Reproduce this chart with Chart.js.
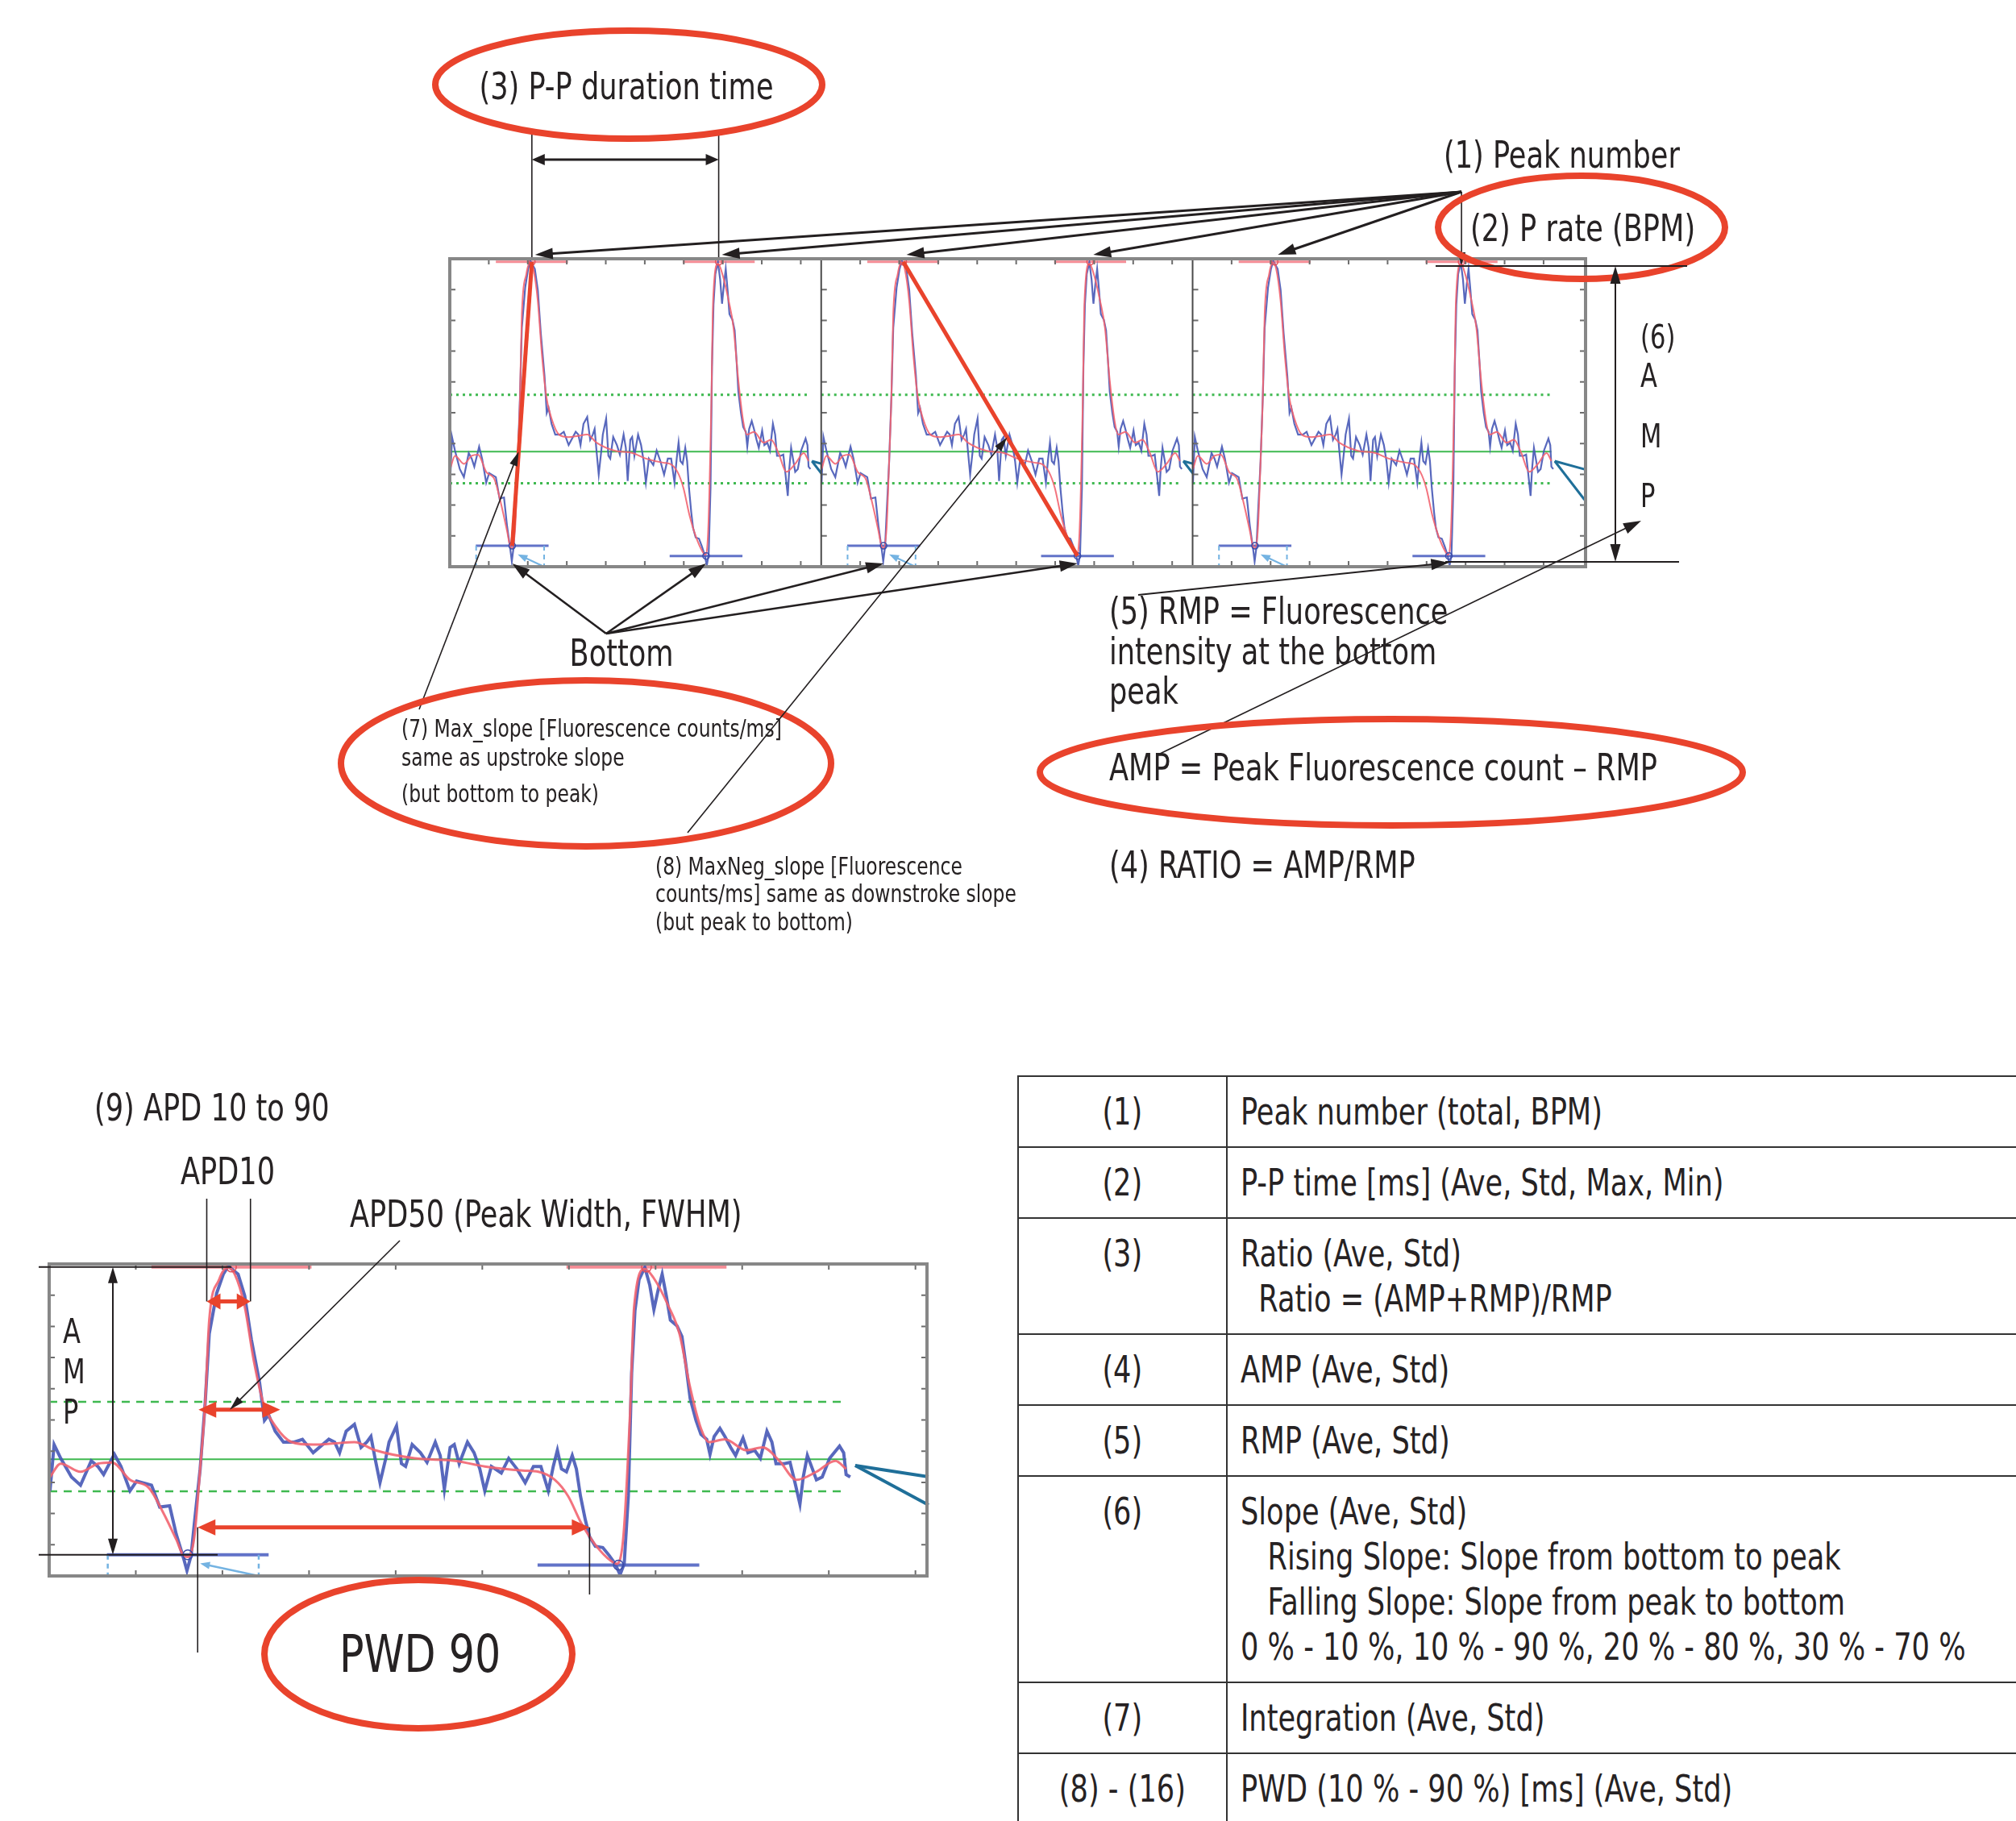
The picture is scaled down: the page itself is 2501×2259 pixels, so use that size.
<!DOCTYPE html>
<html>
<head>
<meta charset="utf-8">
<title>Peak analysis parameters</title>
<script src="https://cdn.jsdelivr.net/npm/chart.js@4.4.1/dist/chart.umd.min.js"></script>
<style>
  html, body { margin: 0; padding: 0; background: #fff; }
  body {
    width: 2501px; height: 2259px; position: relative; overflow: hidden;
    font-family: "Liberation Sans Narrow", "DejaVu Sans Condensed", "Arial Narrow", sans-serif;
    color: #262223;
  }
  canvas { position: absolute; }
  #top { left: 0; top: 0; }
  #bottom { left: 0; top: 1200px; }
  .lbl {
    position: absolute; white-space: pre; line-height: 1; font-size: 46px;
    transform: translateY(-50%) scaleX(0.85); transform-origin: left center;
  }
  .mid { transform: translate(-50%, -50%) scaleX(0.85); transform-origin: center center; }
  .sm { font-size: 31px; transform: translateY(-50%) scaleX(0.84); }
  .big { font-size: 64px; transform: translate(-50%, -50%) scaleX(0.88); transform-origin: center center; }
  #spec { position: absolute; left: 1262px; top: 1334px; width: 1400px; border-collapse: collapse; font-size: 46px; }
  #spec td { border: 2px solid #333; vertical-align: top; padding: 15px 0; line-height: 56px; white-space: pre; }
  #spec td.id { width: 257px; text-align: center; }
  #spec td.txt { padding-left: 16px; }
  #spec span { display: inline-block; transform: scaleX(0.85); transform-origin: left top; }
  #spec td.id span { transform-origin: center top; }
</style>
</head>
<body>
<canvas id="top" width="2501" height="1200"></canvas>
<canvas id="bottom" width="1250" height="1059"></canvas>

<div class="lbl mid" style="left:777px;top:107px">(3) P-P duration time</div>
<div class="lbl" style="left:1791px;top:192px">(1) Peak number</div>
<div class="lbl" style="left:1824px;top:283px">(2) P rate (BPM)</div>
<div class="lbl" style="left:2035px;top:418px;font-size:40px">(6)</div>
<div class="lbl" style="left:2035px;top:466px;font-size:40px">A</div>
<div class="lbl" style="left:2035px;top:541px;font-size:40px">M</div>
<div class="lbl" style="left:2035px;top:615px;font-size:40px">P</div>
<div class="lbl mid" style="left:771px;top:810px">Bottom</div>
<div class="lbl" style="left:1376px;top:758px">(5) RMP = Fluorescence</div>
<div class="lbl" style="left:1376px;top:808px">intensity at the bottom</div>
<div class="lbl" style="left:1376px;top:857px">peak</div>
<div class="lbl" style="left:1376px;top:952px">AMP = Peak Fluorescence count – RMP</div>
<div class="lbl" style="left:1376px;top:1073px">(4) RATIO = AMP/RMP</div>
<div class="lbl sm" style="left:498px;top:903px">(7) Max_slope [Fluorescence counts/ms]</div>
<div class="lbl sm" style="left:498px;top:939px">same as upstroke slope</div>
<div class="lbl sm" style="left:498px;top:984px">(but bottom to peak)</div>
<div class="lbl sm" style="left:813px;top:1074px">(8) MaxNeg_slope [Fluorescence</div>
<div class="lbl sm" style="left:813px;top:1108px">counts/ms] same as downstroke slope</div>
<div class="lbl sm" style="left:813px;top:1143px">(but peak to bottom)</div>
<div class="lbl" style="left:117px;top:1374px">(9) APD 10 to 90</div>
<div class="lbl" style="left:224px;top:1453px">APD10</div>
<div class="lbl" style="left:434px;top:1506px">APD50 (Peak Width, FWHM)</div>
<div class="lbl" style="left:78px;top:1652px;font-size:42px">A</div>
<div class="lbl" style="left:78px;top:1702px;font-size:42px">M</div>
<div class="lbl" style="left:78px;top:1752px;font-size:42px">P</div>
<div class="lbl big" style="left:521px;top:2052px">PWD 90</div>
<table id="spec"></table>

<script>
// one recording window (x: samples, y: % of the plot height)
// shown three times in the overview and once enlarged below
const traceX = [1, 6, 14, 27, 38, 51, 59, 66, 79, 87,
  98, 106, 124, 134, 146, 154, 163, 167, 172, 176,
  183, 189, 194, 203, 211, 217, 229, 237, 245, 255,
  261, 266, 274, 284, 297, 307, 320, 339, 346, 352,
  360, 370, 378, 385, 390, 395, 401, 408, 412, 421,
  427, 432, 440, 450, 458, 468, 474, 479, 486, 491,
  497, 507, 515, 522, 528, 536, 548, 557, 567, 577,
  587, 596, 605, 611, 616, 621, 627, 634, 639, 644,
  650, 655, 662, 671, 679, 686, 692, 697, 702, 706,
  710, 715, 722, 728, 733, 738, 743, 748, 753, 761,
  767, 772, 777, 784, 790, 797, 801, 806, 813, 819,
  826, 832, 841, 847, 855, 862, 870, 876, 881, 891,
  898, 904, 910, 914, 919, 924, 930, 937, 946, 958,
  963, 966, 971];
const traceRaw = [27.3, 42.1, 37.7, 31.7, 29.1, 36.9, 35.1, 32.5, 39.0, 35.1,
  27.3, 30.4, 29.1, 22.1, 22.5, 13.4, 5.6, 1.7, 6.5, 16.9,
  34.3, 55.1, 77.6, 90.6, 96.7, 99.3, 96.7, 89.8, 75.9, 62.0,
  49.9, 51.6, 46.4, 42.9, 42.9, 43.8, 39.5, 43.8, 42.9, 39.5,
  46.4, 48.6, 41.2, 42.9, 44.7, 37.7, 29.9, 37.7, 42.9, 48.1,
  36.0, 35.1, 42.1, 39.5, 36.4, 42.9, 38.6, 27.8, 41.2, 42.1,
  36.0, 42.9, 39.5, 34.3, 27.3, 35.1, 33.0, 37.7, 34.3, 29.9,
  35.1, 35.1, 27.3, 35.1, 40.3, 34.3, 33.4, 38.6, 34.3, 25.6,
  17.8, 12.6, 9.5, 9.1, 6.5, 3.9, 0.4, 3.9, 25.6, 65.0,
  85.0, 95.0, 98.9, 93.2, 85.4, 91.5, 96.7, 89.8, 82.0, 80.2,
  76.7, 67.2, 56.8, 49.9, 45.4, 43.8, 39.0, 44.7, 47.3, 44.7,
  41.2, 38.6, 44.2, 39.5, 40.3, 37.7, 46.4, 42.9, 36.0, 36.0,
  36.4, 29.9, 23.0, 31.7, 38.6, 35.1, 30.8, 31.7, 37.7, 41.6,
  39.5, 32.5, 31.7];

// fitted (smoothed) curve
const smoothX = [1, 14, 38, 59, 76, 98, 121, 138, 154, 163,
  168, 176, 183, 189, 194, 206, 216, 225, 237, 248,
  260, 274, 294, 320, 346, 370, 395, 443, 492, 528,
  574, 593, 613, 629, 645, 662, 681, 688, 696, 704,
  709, 722, 732, 751, 764, 777, 790, 800, 819, 845,
  865, 885, 906, 930, 953, 966];
const smoothY = [31.7, 36.0, 33.4, 36.0, 36.4, 30.8, 28.2, 20.4, 11.7, 6.5,
  6.1, 12.6, 34.3, 55.1, 82.0, 95.0, 98.9, 96.7, 86.3, 69.0,
  55.1, 48.1, 42.9, 42.1, 42.5, 42.9, 40.3, 37.7, 36.9, 35.1,
  33.8, 33.4, 30.8, 25.6, 16.9, 10.0, 4.8, 3.9, 12.6, 51.6,
  86.3, 98.4, 95.8, 86.3, 77.6, 60.3, 47.3, 42.9, 43.8, 40.3,
  41.2, 36.9, 30.8, 33.4, 36.9, 34.3];

// threshold levels: upper dotted, baseline, lower dotted
const levelValues = [55.8, 37.4, 27.1];
const levelEnd = 966;

// detected peaks and bottoms in the window
const peakX = [221, 724];
const peakY = [99, 99];
const bottomX = [168, 690];
const bottomY = [6.8, 3.5];

// overview panels
const panelStart = [0, 1000, 2000];
const panelEnd = [1000, 2000, 3058];

const xTickValues = [105, 210, 315, 420, 525, 630, 735, 840, 945, 1050];
const yTickValues = [10, 20, 30, 40, 50, 60, 70, 80, 90];

// APD10 / APD50 / PWD90 widths on the enlarged trace
const apdLevel = [88, 53.3, 15.6];
const apdFrom = [191, 181, 180];
const apdTo = [244, 280, 655];

// parameter table
const rowIds = ['(1)', '(2)', '(3)', '(4)', '(5)', '(6)', '(7)', '(8) - (16)'];
const rowItems = [
  ['Peak number (total, BPM)'],
  ['P-P time [ms] (Ave, Std, Max, Min)'],
  ['Ratio (Ave, Std)', '  Ratio = (AMP+RMP)/RMP'],
  ['AMP (Ave, Std)'],
  ['RMP (Ave, Std)'],
  ['Slope (Ave, Std)', '   Rising Slope: Slope from bottom to peak', '   Falling Slope: Slope from peak to bottom',
   '0 % - 10 %, 10 % - 90 %, 20 % - 80 %, 30 % - 70 %'],
  ['Integration (Ave, Std)'],
  ['PWD (10 % - 90 %) [ms] (Ave, Std)']
];

const ink = '#231f20';
const red = '#e9432c';
const teal = '#1f6f99';

const table = document.getElementById('spec');
rowIds.forEach((id, i) => {
  const tr = document.createElement('tr');
  const a = document.createElement('td');
  a.className = 'id';
  a.innerHTML = '<span></span>';
  a.firstChild.textContent = id;
  const b = document.createElement('td');
  b.className = 'txt';
  b.innerHTML = '<span></span>';
  b.firstChild.textContent = rowItems[i].join('\n');
  tr.appendChild(a);
  tr.appendChild(b);
  table.appendChild(tr);
});

function seg(ctx, x1, y1, x2, y2, color, width, dash) {
  ctx.save();
  ctx.strokeStyle = color;
  ctx.lineWidth = width;
  ctx.setLineDash(dash || []);
  ctx.beginPath();
  ctx.moveTo(x1, y1);
  ctx.lineTo(x2, y2);
  ctx.stroke();
  ctx.restore();
}

function head(ctx, x1, y1, x2, y2, len, wid) {
  const a = Math.atan2(y2 - y1, x2 - x1), c = Math.cos(a), s = Math.sin(a);
  ctx.beginPath();
  ctx.moveTo(x2, y2);
  ctx.lineTo(x2 - len * c - wid / 2 * s, y2 - len * s + wid / 2 * c);
  ctx.lineTo(x2 - len * c + wid / 2 * s, y2 - len * s - wid / 2 * c);
  ctx.closePath();
  ctx.fill();
}

function arrow(ctx, x1, y1, x2, y2, o) {
  const p = Object.assign({ color: ink, width: 2.5, len: 20, wid: 13, both: false }, o);
  const a = Math.atan2(y2 - y1, x2 - x1), c = Math.cos(a), s = Math.sin(a);
  const cut = p.len * 0.7;
  ctx.save();
  ctx.fillStyle = p.color;
  seg(ctx, p.both ? x1 + c * cut : x1, p.both ? y1 + s * cut : y1, x2 - c * cut, y2 - s * cut, p.color, p.width);
  head(ctx, x1, y1, x2, y2, p.len, p.wid);
  if (p.both) head(ctx, x2, y2, x1, y1, p.len, p.wid);
  ctx.restore();
}

function oval(ctx, cx, cy, rx, ry, color, width) {
  ctx.save();
  ctx.strokeStyle = color;
  ctx.lineWidth = width;
  ctx.beginPath();
  ctx.ellipse(cx, cy, rx, ry, 0, 0, Math.PI * 2);
  ctx.stroke();
  ctx.restore();
}

// grey box with inward ticks, one left axis per panel
function drawFrame(chart, starts, ends) {
  const ctx = chart.ctx, a = chart.chartArea;
  const X = v => chart.scales.x.getPixelForValue(v), Y = v => chart.scales.y.getPixelForValue(v);
  ctx.save();
  ctx.strokeStyle = '#6d6d6d';
  ctx.lineWidth = 2;
  ctx.beginPath();
  starts.forEach((o, i) => {
    xTickValues.forEach(t => {
      if (o + t >= ends[i] - 10) return;
      const x = X(o + t);
      ctx.moveTo(x, a.top); ctx.lineTo(x, a.top + 7);
      ctx.moveTo(x, a.bottom); ctx.lineTo(x, a.bottom - 7);
    });
    yTickValues.forEach(v => {
      ctx.moveTo(X(o), Y(v)); ctx.lineTo(X(o) + 7, Y(v));
    });
  });
  yTickValues.forEach(v => {
    ctx.moveTo(a.right, Y(v)); ctx.lineTo(a.right - 7, Y(v));
  });
  ctx.stroke();
  starts.slice(1).forEach(o => seg(ctx, X(o), a.top, X(o), a.bottom, '#4a4a4a', 2));
  ctx.strokeStyle = '#878787';
  ctx.lineWidth = 4;
  ctx.strokeRect(a.left, a.top, a.right - a.left, a.bottom - a.top);
  ctx.restore();
}

const pts = (xs, ys, o) => xs.map((x, i) => ({ x: x + o, y: ys[i] }));

// datasets for one copy of the window, bottom layer first
function windowSets(o, w) {
  const sets = [];
  levelValues.forEach((v, i) => sets.push({
    data: [{ x: o, y: v }, { x: o + levelEnd, y: v }],
    borderColor: '#3fb950', borderWidth: i === 1 ? 2 : w.dotW,
    borderDash: i === 1 ? [] : w.dash
  }));
  peakX.forEach((px, i) => sets.push({
    data: [{ x: o + px - 97, y: peakY[i] }, { x: o + px + 97, y: peakY[i] }],
    borderColor: 'rgba(242,120,130,0.85)', borderWidth: w.mark
  }));
  bottomX.forEach((bx, i) => sets.push({
    data: [{ x: o + bx - 98, y: bottomY[i] }, { x: o + bx + 98, y: bottomY[i] }],
    borderColor: 'rgba(70,90,190,0.85)', borderWidth: w.mark
  }));
  sets.push({
    data: pts(traceX, traceRaw, o),
    borderColor: 'rgba(70,88,182,0.9)', borderWidth: w.raw
  });
  sets.push({
    data: pts(smoothX, smoothY, o),
    borderColor: 'rgba(242,100,112,0.9)', borderWidth: w.smooth,
    cubicInterpolationMode: 'monotone'
  });
  sets.push({
    data: pts(peakX, peakY, o), showLine: false,
    pointRadius: w.dot, pointBorderColor: '#e4505c', pointBackgroundColor: 'rgba(0,0,0,0)', pointBorderWidth: 1.5
  });
  sets.push({
    data: pts(bottomX, bottomY, o), showLine: false,
    pointRadius: w.dot, pointBorderColor: '#3a4ca8', pointBackgroundColor: 'rgba(0,0,0,0)', pointBorderWidth: 1.5
  });
  return sets;
}

// light-blue helpers around the first bottom
function bottomHelpers(chart, o, dashW) {
  const ctx = chart.ctx, a = chart.chartArea;
  const X = v => chart.scales.x.getPixelForValue(v), Y = v => chart.scales.y.getPixelForValue(v);
  const lb = '#74b3e2';
  seg(ctx, X(o + bottomX[0] - 97), Y(bottomY[0]), X(o + bottomX[0] - 97), a.bottom, lb, dashW, [6, 5]);
  seg(ctx, X(o + bottomX[0] + 86), Y(bottomY[0]), X(o + bottomX[0] + 86), a.bottom, lb, dashW, [6, 5]);
  arrow(ctx, X(o + bottomX[0] + 86), Y(0), X(o + bottomX[0] + 15), Y(4), { color: lb, width: dashW, len: 12, wid: 9 });
}

const baseOptions = (min, max, pad) => ({
  responsive: false,
  animation: false,
  devicePixelRatio: 1,
  layout: { padding: pad },
  scales: {
    x: { type: 'linear', min, max, display: false },
    y: { type: 'linear', min: 0, max: 100, display: false }
  },
  elements: { point: { radius: 0 }, line: { tension: 0 } },
  plugins: { legend: { display: false }, tooltip: { enabled: false } }
});

// ---------- overview with three panels ----------
let topLayers = [];
panelStart.forEach(o => {
  topLayers = topLayers.concat(windowSets(o, { raw: 2.2, smooth: 2, mark: 3, dot: 4, dotW: 3, dash: [3, 5] }));
});
// upstroke slope in panel 1, downstroke slope in panel 2
topLayers.push({
  data: [{ x: bottomX[0], y: bottomY[0] }, { x: peakX[0], y: peakY[0] }],
  borderColor: red, borderWidth: 5
});
topLayers.push({
  data: [{ x: panelStart[1] + peakX[0], y: peakY[0] }, { x: panelStart[1] + bottomX[1], y: bottomY[1] }],
  borderColor: red, borderWidth: 5
});

const topNotes = {
  id: 'topNotes',
  afterDatasetsDraw(chart) {
    const ctx = chart.ctx, a = chart.chartArea;
    const X = v => chart.scales.x.getPixelForValue(v), Y = v => chart.scales.y.getPixelForValue(v);
    panelStart.forEach((o, i) => {
      bottomHelpers(chart, o, 2);
      // teal pointer at the end of each window, cut by the panel edge
      ctx.save();
      ctx.beginPath();
      ctx.rect(X(o), a.top, X(panelEnd[i]) - X(o), a.bottom - a.top);
      ctx.clip();
      const vx = X(o + 975), vy = Y(34.3);
      seg(ctx, vx, vy, vx + 40, vy + 11, teal, 3);
      seg(ctx, vx, vy, vx + 37, vy + 48, teal, 3);
      ctx.restore();
    });
    drawFrame(chart, panelStart, panelEnd);
  },
  afterDraw(chart) {
    const ctx = chart.ctx, a = chart.chartArea;
    const X = v => chart.scales.x.getPixelForValue(v), Y = v => chart.scales.y.getPixelForValue(v);

    // (3) P-P duration between the first two peaks
    const p1 = X(peakX[0]), p2 = X(peakX[1]);
    seg(ctx, p1, 165, p1, a.top - 2, ink, 1.6);
    seg(ctx, p2, 165, p2, a.top - 2, ink, 1.6);
    arrow(ctx, p1, 198, p2, 198, { both: true, width: 3, len: 16, wid: 14 });
    oval(ctx, 780, 105, 240, 67, red, 8);

    // (1) Peak number: fan of arrows to every peak
    const ox = X(panelStart[2] + peakX[1]), oy = 238;
    panelStart.forEach(o => peakX.forEach(px => {
      const tx = X(o + px);
      if (Math.abs(tx - ox) < 2) arrow(ctx, ox, oy, tx, a.top + 8, { width: 1.6, len: 16, wid: 10 });
      else arrow(ctx, ox, oy, tx + 4, a.top - 5, { width: 3, len: 22, wid: 14 });
    }));
    oval(ctx, 1962, 282, 178, 64, red, 8);

    // (6) AMP bracket
    seg(ctx, 1781, 330, 2093, 330, ink, 2);
    seg(ctx, 1793, 697, 2083, 697, ink, 2);
    arrow(ctx, 2004, 330, 2004, 697, { both: true, width: 2, len: 22, wid: 13 });

    // Bottom
    [[0, 0], [0, 1], [1, 0], [1, 1]].forEach(([p, k]) =>
      arrow(ctx, 752, 786, X(panelStart[p] + bottomX[k]), a.bottom - 4, { width: 2.6, len: 22, wid: 14 }));

    // (5) RMP
    arrow(ctx, 1412, 738, X(panelStart[2] + bottomX[1]), a.bottom - 5, { width: 2, len: 22, wid: 14 });

    // AMP formula -> P of AMP
    arrow(ctx, 1439, 935, 2036, 646, { width: 1.6, len: 22, wid: 14 });
    oval(ctx, 1726, 958, 436, 66, red, 8);

    // (7) to the upstroke slope where it meets the baseline
    const f7 = (levelValues[1] - bottomY[0]) / (peakY[0] - bottomY[0]);
    const u7 = bottomX[0] + f7 * (peakX[0] - bottomX[0]);
    arrow(ctx, 520, 880, X(u7), Y(levelValues[1]), { width: 1.6, len: 18, wid: 10 });
    oval(ctx, 727, 947, 304, 103, red, 8);

    // (8) to the downstroke slope
    const f8 = (peakY[0] - 42) / (peakY[0] - bottomY[1]);
    const u8 = panelStart[1] + peakX[0] + f8 * (bottomX[1] - peakX[0]);
    arrow(ctx, 853, 1033, X(u8), Y(42), { width: 1.6, len: 18, wid: 10 });
  }
};

new Chart(document.getElementById('top'), {
  type: 'line',
  data: { datasets: topLayers.reverse() },
  options: baseOptions(0, 3058, { left: 558, right: 534, top: 321, bottom: 497 }),
  plugins: [topNotes]
});

// ---------- enlarged single window ----------
const yOff = 1200;
const bottomLayers = windowSets(0, { raw: 4, smooth: 3, mark: 4, dot: 6, dotW: 2.5, dash: [10, 8] });

const bottomNotes = {
  id: 'bottomNotes',
  afterDatasetsDraw(chart) {
    const X = v => chart.scales.x.getPixelForValue(v), Y = v => chart.scales.y.getPixelForValue(v);
    bottomHelpers(chart, 0, 2.5);
    const vx = X(977), vy = Y(35.4);
    seg(chart.ctx, vx, vy, vx + 91, vy + 14, teal, 4);
    seg(chart.ctx, vx, vy, vx + 91, vy + 49, teal, 4);
    drawFrame(chart, [0], [1064]);
  },
  afterDraw(chart) {
    const ctx = chart.ctx;
    const X = v => chart.scales.x.getPixelForValue(v), Y = v => chart.scales.y.getPixelForValue(v);

    // AMP height on the first beat
    const yp = Y(peakY[0]), yb = Y(bottomY[0]);
    seg(ctx, 48, yp, X(peakX[0]), yp, ink, 2);
    seg(ctx, 48, yb, 270, yb, ink, 2);
    arrow(ctx, 140, yp, 140, yb, { both: true, width: 2, len: 20, wid: 12 });

    // guide lines for APD10 and PWD90
    seg(ctx, X(apdFrom[0]), 1487 - yOff, X(apdFrom[0]), Y(apdLevel[0]), ink, 1.6);
    seg(ctx, X(apdTo[0]), 1487 - yOff, X(apdTo[0]), Y(apdLevel[0]), ink, 1.6);
    seg(ctx, X(apdFrom[2]), Y(apdLevel[2]), X(apdFrom[2]), 2050 - yOff, ink, 1.6);
    seg(ctx, X(apdTo[2]), Y(apdLevel[2]), X(apdTo[2]), 1978 - yOff, ink, 1.6);

    apdLevel.forEach((v, i) => arrow(ctx, X(apdFrom[i]), Y(v), X(apdTo[i]), Y(v),
      { both: true, color: red, width: 5, len: i === 0 ? 17 : 22, wid: 20 }));

    // APD50 pointer
    arrow(ctx, 496, 1539 - yOff, X(219), Y(apdLevel[1]), { width: 1.6, len: 18, wid: 10 });

    oval(ctx, 519, 2052 - yOff, 191, 92, red, 8);
  }
};

new Chart(document.getElementById('bottom'), {
  type: 'line',
  data: { datasets: bottomLayers.reverse() },
  options: baseOptions(0, 1064, { left: 61, right: 100, top: 368, bottom: 304 }),
  plugins: [bottomNotes]
});
</script>
</body>
</html>
